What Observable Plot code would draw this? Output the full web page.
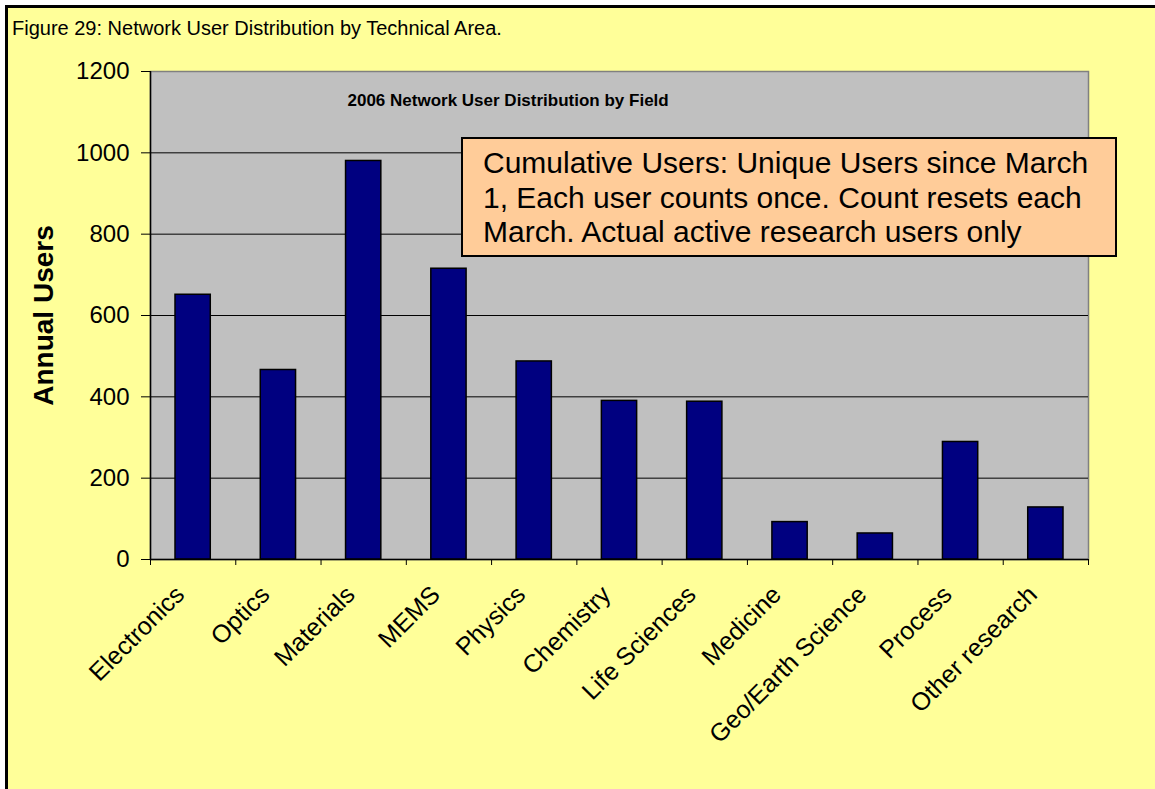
<!DOCTYPE html>
<html>
<head>
<meta charset="utf-8">
<script src="https://cdn.jsdelivr.net/npm/d3@7"></script>
<script src="https://cdn.jsdelivr.net/npm/@observablehq/plot@0.6"></script>
<style>
  html, body { margin: 0; padding: 0; background: #ffffff; overflow: hidden; width: 1155px; height: 789px; }
  #frame { position: absolute; left: 5px; top: 5px; width: 1200px; height: 840px; background: #FFFF99; border: 3px solid #000; }
  #title { position: absolute; left: 12px; top: 17px; font-family: "Liberation Sans", Arial, sans-serif; font-size: 20px; color: #000; white-space: nowrap; }
  #chart { position: absolute; left: 0; top: 0; }
  #note { position: absolute; left: 461px; top: 137px; width: 656px; height: 120px; background: #FFCC99; border: 2px solid #000;
          font-family: "Liberation Sans", Arial, sans-serif; font-size: 30px; line-height: 34.5px; padding: 7px 0 0 20px; box-sizing: border-box; color: #000; white-space: nowrap; }
</style>
</head>
<body>
<div id="frame"></div>
<div id="title">Figure 29: Network User Distribution by Technical Area.</div>
<div id="chart"></div>
<div id="note">Cumulative Users: Unique Users since March<br>1, Each user counts once. Count resets each<br>March. Actual active research users only</div>
<script>
const categories = ["Electronics", "Optics", "Materials", "MEMS", "Physics", "Chemistry", "Life Sciences", "Medicine", "Geo/Earth Science", "Process", "Other research"];
const annualUsers = [651, 466, 980, 715, 487, 390, 388, 92, 64, 289, 128];
const yTicks = [0, 200, 400, 600, 800, 1000, 1200];
const chartTitle = "2006 Network User Distribution by Field";
const yLabel = "Annual Users";

const data = categories.map((c, i) => ({i, category: c, value: annualUsers[i]}));
const font = "Liberation Sans, Arial, sans-serif";

const plot = Plot.plot({
  width: 1150,
  height: 789,
  marginLeft: 150,
  marginRight: 62,
  marginTop: 71,
  marginBottom: 230,
  style: {background: "transparent", fontFamily: font, color: "#000", overflow: "visible"},
  x: {type: "linear", domain: [0, categories.length]},
  y: {domain: [0, 1200]},
  marks: [
    Plot.frame({fill: "#C0C0C0", stroke: "#808080", strokeWidth: 1.5}),
    Plot.gridY(yTicks.filter(d => d > 0 && d < 1200), {stroke: "#000", strokeOpacity: 1, strokeWidth: 1}),
    Plot.rectY(data, {x1: "i", x2: d => d.i + 1, y: "value", insetLeft: 25, insetRight: 25, fill: "#000080", stroke: "#000", strokeWidth: 1.5}),
    Plot.ruleX([0], {stroke: "#000", strokeWidth: 1.5}),
    Plot.ruleY([0], {stroke: "#000", strokeWidth: 1.5}),
    Plot.axisY({ticks: yTicks, tickSize: 9, tickPadding: 12, tickFormat: d3.format("d"), fontSize: 24, label: null, stroke: "#000"}),
    Plot.axisX({ticks: d3.range(0, categories.length + 1), tickSize: 6, tickFormat: () => "", label: null, stroke: "#000"}),
    Plot.axisX({ticks: d3.range(0, categories.length).map(i => i + 0.5), tickSize: 0, tickPadding: 31, dx: -13, tickRotate: -45,
                tickFormat: v => categories[Math.floor(v)], fontSize: 25, label: null}),
    Plot.text([yLabel], {frameAnchor: "left", textAnchor: "middle", dx: -106, rotate: -90, fontSize: 28, fontWeight: "bold", fill: "#000"}),
    Plot.text([chartTitle], {frameAnchor: "top-left", dx: 197, dy: 22, textAnchor: "start", fontSize: 17, fontWeight: "bold", fill: "#000"})
  ]
});
document.getElementById("chart").appendChild(plot);
</script>
</body>
</html>
